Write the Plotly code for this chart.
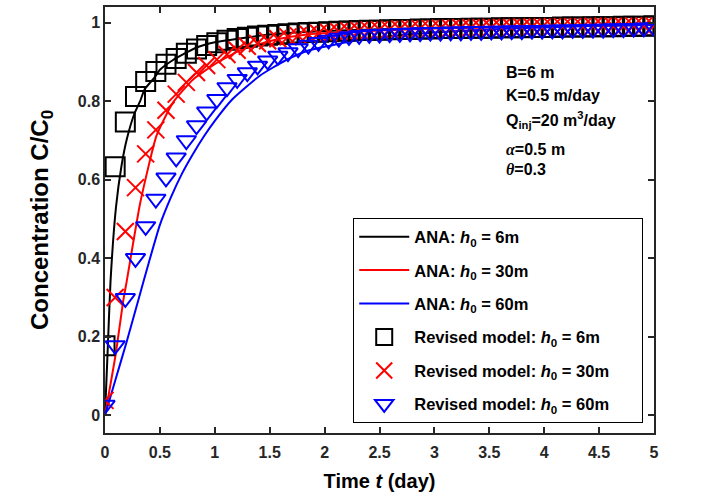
import numpy as np
import plotly.graph_objects as go

# ---------------- data ----------------
t_ana_6 = [0, 0.025, 0.05, 0.1, 0.15, 0.2, 0.27, 0.32, 0.36, 0.45, 0.5, 0.62, 0.82, 1.0, 1.5, 2.0, 3.0, 4.0, 5.0]
c_ana_6 = [0, 0.17, 0.34, 0.53, 0.635, 0.705, 0.77, 0.80, 0.83, 0.86, 0.88, 0.905, 0.935, 0.95, 0.97, 0.979, 0.987, 0.991, 0.994]

t_ana_30 = [0, 0.1, 0.165, 0.2, 0.32, 0.47, 0.62, 0.8, 1.02, 1.25, 1.56, 1.84, 2.5, 3.0, 4.0, 5.0]
c_ana_30 = [0, 0.16, 0.29, 0.345, 0.54, 0.713, 0.797, 0.855, 0.898, 0.932, 0.957, 0.970, 0.980, 0.985, 0.990, 0.995]

t_ana_60 = [0, 0.1, 0.2, 0.3, 0.4, 0.5, 0.6, 0.7, 0.8, 0.9, 1.0, 1.16, 1.41, 1.65, 1.86, 2.3, 2.5, 3.0, 3.5, 4.0, 4.5, 5.0]
c_ana_60 = [0, 0.095, 0.19, 0.29, 0.39, 0.485, 0.555, 0.615, 0.665, 0.71, 0.75, 0.805, 0.865, 0.905, 0.93, 0.955, 0.963, 0.975, 0.983, 0.988, 0.992, 0.995]

t_rev = np.linspace(0, 5, 55)
c_rev_6 = [0.177, 0.633, 0.747, 0.812, 0.850, 0.876, 0.894, 0.909, 0.922, 0.933,
           0.942, 0.949, 0.955, 0.960, 0.963, 0.966, 0.968, 0.970, 0.972, 0.974,
           0.975, 0.976, 0.977, 0.978, 0.979, 0.980, 0.981, 0.981, 0.982, 0.983,
           0.983, 0.984, 0.984, 0.985, 0.985, 0.985, 0.986, 0.986, 0.986, 0.987,
           0.987, 0.987, 0.988, 0.988, 0.988, 0.989, 0.989, 0.989, 0.990, 0.990,
           0.990, 0.991, 0.991, 0.991, 0.992]
c_rev_30 = [0.038, 0.300, 0.468, 0.580, 0.666, 0.727, 0.777, 0.818, 0.848, 0.873,
            0.891, 0.906, 0.919, 0.930, 0.940, 0.947, 0.954, 0.959, 0.964, 0.967,
            0.970, 0.973, 0.975, 0.977, 0.979, 0.980, 0.981, 0.982, 0.983, 0.984,
            0.984, 0.985, 0.985, 0.986, 0.986, 0.987, 0.987, 0.987, 0.988, 0.988,
            0.988, 0.989, 0.989, 0.989, 0.990, 0.990, 0.990, 0.990, 0.991, 0.991,
            0.991, 0.991, 0.992, 0.992, 0.992]
c_rev_60 = [0.026, 0.178, 0.298, 0.400, 0.481, 0.551, 0.605, 0.656, 0.700, 0.738,
            0.773, 0.805, 0.835, 0.856, 0.873, 0.890, 0.903, 0.915, 0.924, 0.934,
            0.943, 0.950, 0.956, 0.961, 0.965, 0.968, 0.970, 0.971, 0.972, 0.973,
            0.974, 0.975, 0.976, 0.976, 0.977, 0.977, 0.978, 0.978, 0.979, 0.979,
            0.980, 0.980, 0.981, 0.981, 0.982, 0.982, 0.983, 0.983, 0.984, 0.984,
            0.985, 0.985, 0.986, 0.987, 0.988]

x_ticks = [0, 0.5, 1, 1.5, 2, 2.5, 3, 3.5, 4, 4.5, 5]
x_ticklabels = ["0", "0.5", "1", "1.5", "2", "2.5", "3", "3.5", "4", "4.5", "5"]
y_ticks = [0, 0.2, 0.4, 0.6, 0.8, 1]
y_ticklabels = ["0", "0.2", "0.4", "0.6", "0.8", "1"]

param_lines = ["B=6 m", "K=0.5 m/day", "Q<sub>inj</sub>=20 m<sup>3</sup>/day",
               "<span style='font-family:Liberation Serif'><i>α</i></span>=0.5 m",
               "<span style='font-family:Liberation Serif'><i>θ</i></span>=0.3"]
param_y = [0.873, 0.815, 0.752, 0.678, 0.625]

legend_names = ["ANA: <i>h</i><sub>0</sub> = 6m", "ANA: <i>h</i><sub>0</sub> = 30m",
                "ANA: <i>h</i><sub>0</sub> = 60m",
                "Revised model: <i>h</i><sub>0</sub> = 6m",
                "Revised model: <i>h</i><sub>0</sub> = 30m",
                "Revised model: <i>h</i><sub>0</sub> = 60m"]

FONT = "Liberation Sans, Arial"
PAD = "\u00a0" * 6

# ---------------- figure ----------------
fig = go.Figure()

line_specs = [
    (t_ana_6, c_ana_6, "black"),
    (t_ana_30, c_ana_30, "#ff0000"),
    (t_ana_60, c_ana_60, "#0000ff"),
]
for i, (tx, cy, col) in enumerate(line_specs):
    fig.add_trace(go.Scatter(x=tx, y=cy, mode="lines", name=legend_names[i] + PAD,
                             line=dict(color=col, width=2, shape="spline", smoothing=0.5),
                             legendgroup=f"g{i}"))

marker_specs = [
    (c_rev_6, "black", "square-open", 19),
    (c_rev_30, "#ff0000", "x-thin-open", 17),
    (c_rev_60, "#0000ff", "triangle-down-open", 17),
]
for j, (cy, col, sym, sz) in enumerate(marker_specs):
    fig.add_trace(go.Scatter(x=t_rev, y=cy, mode="markers", name=legend_names[3 + j] + PAD,
                             marker=dict(symbol=sym, size=sz, color=col,
                                         line=dict(color=col, width=2)),
                             legendgroup=f"m{j}"))

for k, txt in enumerate(param_lines):
    fig.add_annotation(x=3.63, y=param_y[k], xref="x", yref="y",
                       text=txt, showarrow=False, xanchor="left", yanchor="middle",
                       font=dict(family=FONT, size=16, color="black", weight="bold"))

axis_common = dict(showline=True, linecolor="#262626", linewidth=1.5, mirror="ticks",
                   ticks="inside", ticklen=6, tickwidth=1.5, tickcolor="#262626",
                   showgrid=False, zeroline=False,
                   tickfont=dict(family=FONT, size=16, color="#262626", weight="bold"))

fig.update_xaxes(range=[0, 5], tickvals=x_ticks, ticktext=x_ticklabels,
                 ticklabelstandoff=4,
                 title=dict(text="Time <i>t</i> (day)", standoff=14,
                            font=dict(family=FONT, size=20, color="black", weight="bold")),
                 **axis_common)
fig.update_yaxes(range=[-0.045, 1.04], tickvals=y_ticks, ticktext=y_ticklabels,
                 title=dict(text="Concentration C/C<sub>0</sub>", standoff=22,
                            font=dict(family=FONT, size=24, color="black", weight="bold")),
                 **axis_common)

fig.update_layout(
    width=704, height=501,
    margin=dict(l=105, r=50, t=5, b=68),
    plot_bgcolor="white", paper_bgcolor="white",
    font=dict(family=FONT, color="black"),
    legend=dict(x=0.98, y=0.023, xanchor="right", yanchor="bottom",
                bordercolor="black", borderwidth=1.2, bgcolor="white",
                font=dict(family=FONT, size=16.5, color="black", weight="bold"),
                tracegroupgap=9, traceorder="grouped", itemwidth=50),
)

fig.write_html("out.html")
